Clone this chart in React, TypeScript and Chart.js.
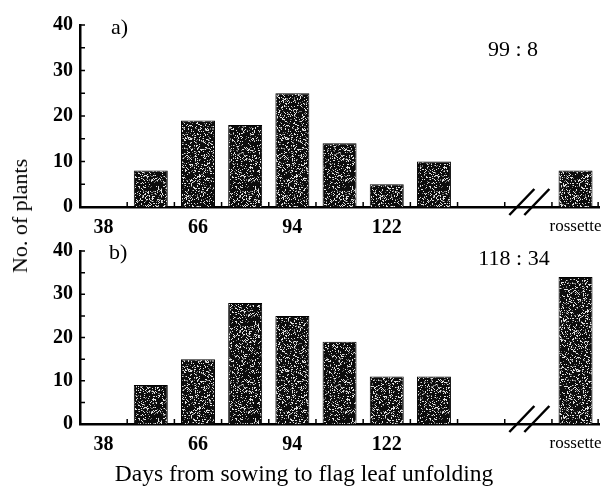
import React, { useEffect, useRef } from 'react';
import { Chart, registerables } from 'chart.js';
Chart.register(...registerables);

const categories = ['38', '52', '66', '80', '94', '108', '122', '136', '150', 'break', 'rossette'];
const tickLabels = ['38', '', '66', '', '94', '', '122', '', '', '', 'rossette'];
const plantsA = [0, 8, 19, 18, 25, 14, 5, 10, 0, null, 8];
const plantsB = [0, 9, 15, 28, 25, 19, 11, 11, 0, null, 34];
const panelLabelA = 'a)';
const panelLabelB = 'b)';
const ratioA = '99 : 8';
const ratioB = '118 : 34';
const yMax = 40;
const yStep = 10;
const yMinorStep = 5;
const breakIndex = 9;
const xTitle = 'Days from sowing to flag leaf unfolding';
const yTitle = 'No. of plants';

const SERIF = "'Liberation Serif', 'Times New Roman', serif";

function makePattern(ctx: CanvasRenderingContext2D) {
  const size = 97;
  const c = document.createElement('canvas');
  c.width = size;
  c.height = size;
  const g = c.getContext('2d')!;
  const img = g.createImageData(size, size);
  for (let yy = 0; yy < size; yy++) {
    for (let xx = 0; xx < size; xx++) {
      let h = (Math.imul(xx + 1, 73856093) ^ Math.imul(yy + 7, 19349663)) >>> 0;
      h = Math.imul(h ^ (h >>> 15), 2246822507) >>> 0;
      h = Math.imul(h ^ (h >>> 13), 3266489909) >>> 0;
      h = (h ^ (h >>> 16)) >>> 0;
      const v = h & 255;
      const val = v < 38 ? 225 : v < 60 ? 120 : 12;
      const k = (yy * size + xx) * 4;
      img.data[k] = val;
      img.data[k + 1] = val;
      img.data[k + 2] = val;
      img.data[k + 3] = 255;
    }
  }
  g.putImageData(img, 0, 0);
  return ctx.createPattern(c, 'repeat');
}

type PanelCfg = {
  data: (number | null)[];
  label: string;
  ratio: string;
  labelPos: [number, number];
  ratioPos: [number, number];
  padTop: number;
  xHeight: number;
  padBottom: number;
};

function decorPlugin(cfg: PanelCfg) {
  return {
    id: 'decor',
    afterDraw(chart: any) {
      const { ctx, chartArea, scales } = chart;
      const { left, right, bottom } = chartArea;
      const x = scales.x;
      const y = scales.y;
      ctx.save();
      ctx.strokeStyle = '#000';
      ctx.lineWidth = 1.5;
      ctx.beginPath();
      for (let i = 1; i < categories.length; i++) {
        const px = (x.getPixelForValue(i - 1) + x.getPixelForValue(i)) / 2;
        ctx.moveTo(px, bottom);
        ctx.lineTo(px, bottom - 5);
      }
      ctx.moveTo(right - 1, bottom);
      ctx.lineTo(right - 1, bottom - 5);
      for (let v = yMinorStep; v <= yMax; v += yMinorStep) {
        const py = y.getPixelForValue(v);
        ctx.moveTo(left, py);
        ctx.lineTo(left + 5, py);
      }
      ctx.stroke();
      // axis break marks
      const bx = x.getPixelForValue(breakIndex);
      ctx.lineWidth = 2.5;
      ctx.beginPath();
      for (const off of [-7, 8]) {
        ctx.moveTo(bx + off - 12, bottom + 8);
        ctx.lineTo(bx + off + 13, bottom - 18);
      }
      ctx.stroke();
      // texts
      ctx.fillStyle = '#000';
      ctx.font = `22px ${SERIF}`;
      ctx.textBaseline = 'middle';
      ctx.textAlign = 'left';
      ctx.fillText(cfg.label, cfg.labelPos[0], cfg.labelPos[1]);
      ctx.textAlign = 'center';
      ctx.fillText(cfg.ratio, cfg.ratioPos[0], cfg.ratioPos[1]);
      ctx.restore();
    },
  };
}

function Panel({ cfg, top, height }: { cfg: PanelCfg; top: number; height: number }) {
  const ref = useRef<HTMLCanvasElement>(null);
  useEffect(() => {
    const canvas = ref.current!;
    const ctx = canvas.getContext('2d')!;
    const pattern = makePattern(ctx);
    const chart = new Chart(canvas, {
      type: 'bar',
      data: {
        labels: categories,
        datasets: [
          {
            data: cfg.data,
            backgroundColor: pattern as any,
            borderColor: '#000',
            borderWidth: 1,
            categoryPercentage: 1,
            barPercentage: 0.72,
          },
        ],
      },
      options: {
        animation: false,
        responsive: false,
        maintainAspectRatio: false,
        layout: { padding: { top: cfg.padTop, left: 0, right: 11, bottom: cfg.padBottom } },
        plugins: { legend: { display: false }, tooltip: { enabled: false } },
        scales: {
          x: {
            type: 'category',
            offset: true,
            grid: { display: false, drawTicks: false },
            border: { display: true, color: '#000', width: 2.5 },
            ticks: {
              autoSkip: false,
              maxRotation: 0,
              padding: 9,
              color: '#000',
              callback: (_v: any, i: number) => tickLabels[i],
              font: (c: any) =>
                c.index === categories.length - 1
                  ? { family: SERIF, size: 17 }
                  : { family: SERIF, size: 20, weight: 'bold' },
            },
            afterFit: (s: any) => {
              s.height = cfg.xHeight;
            },
          },
          y: {
            min: 0,
            max: yMax,
            grid: { display: false, drawTicks: false },
            border: { display: true, color: '#000', width: 2.5 },
            ticks: {
              stepSize: yStep,
              padding: 7,
              color: '#000',
              font: { family: SERIF, size: 20, weight: 'bold' },
            },
            afterFit: (s: any) => {
              s.width = 80;
            },
          },
        },
      },
      plugins: [decorPlugin(cfg)],
    });
    return () => chart.destroy();
  }, []);
  return (
    <canvas
      ref={ref}
      width={611}
      height={height}
      style={{ position: 'absolute', left: 0, top, width: 611, height }}
    />
  );
}

const cfgA: PanelCfg = {
  data: plantsA,
  label: panelLabelA,
  ratio: ratioA,
  labelPos: [111, 28],
  ratioPos: [513, 50],
  padTop: 25,
  xHeight: 33,
  padBottom: 10,
};
const cfgB: PanelCfg = {
  data: plantsB,
  label: panelLabelB,
  ratio: ratioB,
  labelPos: [109, 21],
  ratioPos: [514, 27],
  padTop: 11,
  xHeight: 30,
  padBottom: 10,
};

export default function App() {
  return (
    <div
      style={{
        position: 'absolute',
        left: 0,
        top: 0,
        width: 611,
        height: 486,
        background: '#fff',
        overflow: 'hidden',
        fontFamily: SERIF,
      }}
    >
      <Panel cfg={cfgA} top={0} height={250} />
      <Panel cfg={cfgB} top={232} height={232} />
      <div
        style={{
          position: 'absolute',
          left: 20,
          top: 216,
          transform: 'translate(-50%, -50%) rotate(-90deg)',
          whiteSpace: 'nowrap',
          fontSize: 22,
          color: '#000',
        }}
      >
        {yTitle}
      </div>
      <div
        style={{
          position: 'absolute',
          left: 304,
          top: 473,
          transform: 'translate(-50%, -50%)',
          whiteSpace: 'nowrap',
          fontSize: 23.5,
          color: '#000',
        }}
      >
        {xTitle}
      </div>
    </div>
  );
}
